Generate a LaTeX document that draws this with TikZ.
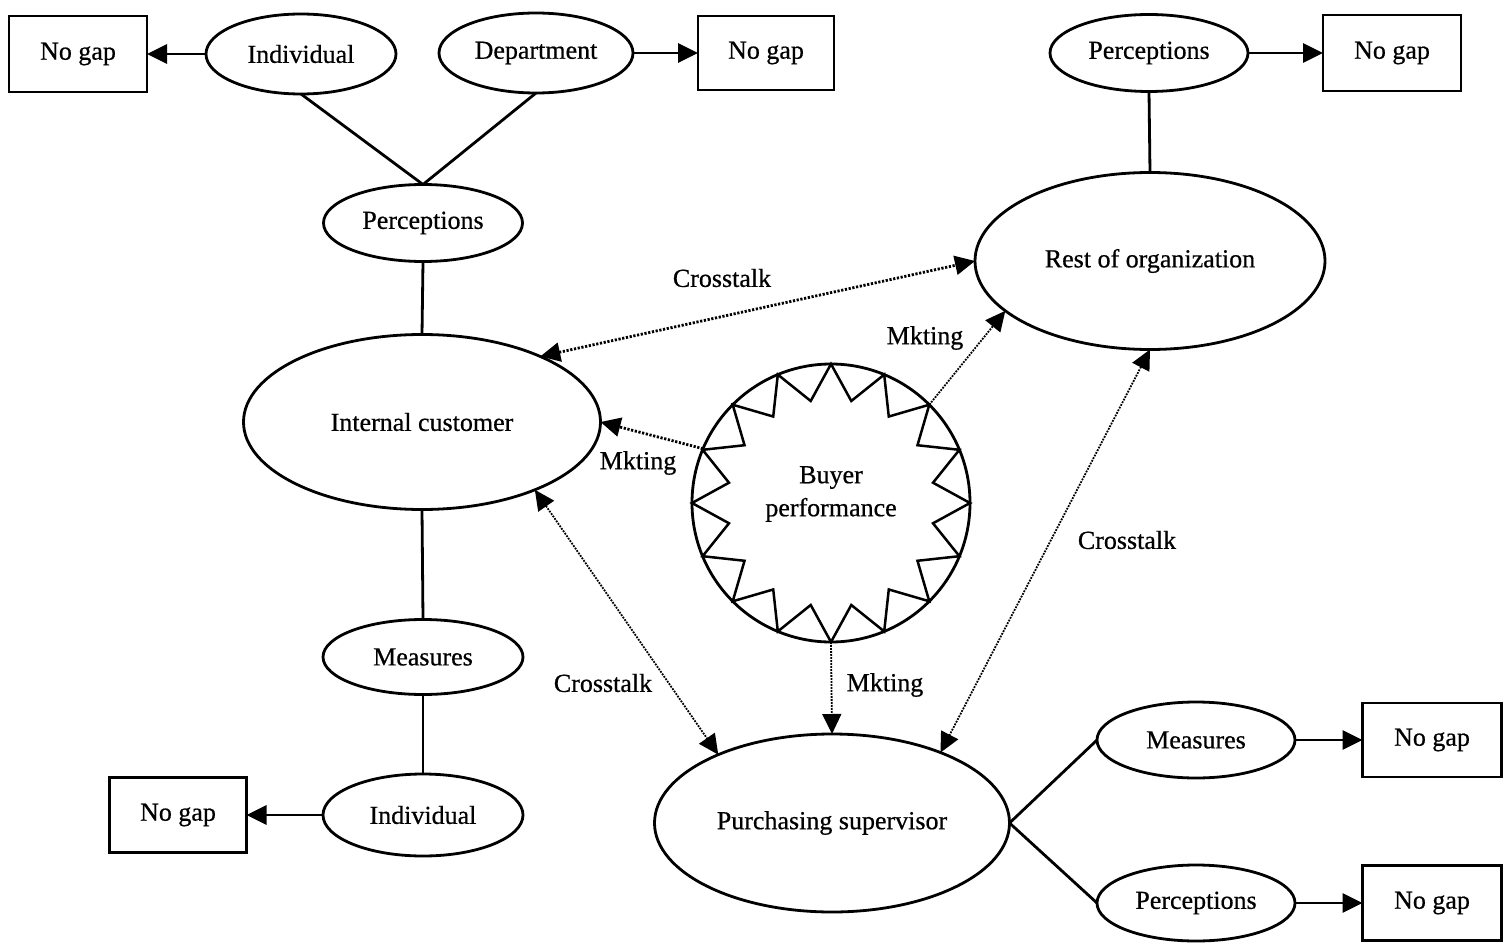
\documentclass[tikz,border=0pt]{standalone}
\usepackage{fontspec}
\setmainfont[FakeBold=0.6]{Liberation Serif}
\usetikzlibrary{shapes.geometric,arrows.meta,calc}
\begin{document}
\begin{tikzpicture}[x=1pt,y=-1pt,
  every node/.style={font=\fontsize{26}{33}\selectfont, inner sep=0pt, outer sep=0pt},
  oval/.style={draw, ellipse, line width=2.8pt},
  gapbox/.style={draw, rectangle, line width=2.5pt},
  link/.style={line width=2.8pt},
  head/.tip={Triangle[length=20pt,width=19pt]},
  tip/.style={-head},
  both/.style={head-head},
  talk/.style={line width=2.8pt, dash pattern=on 2.2pt off 1.6pt},
  thintalk/.style={line width=1.8pt, dash pattern=on 1.8pt off 1.2pt}
]
\useasboundingbox (0,0) rectangle (1510,947);

% top-left cluster
\node[gapbox, minimum width=138pt, minimum height=76pt] (gapA) at (78,54) {No gap};
\node[oval, minimum width=190pt, minimum height=80pt] (indA) at (301,54) {Individual};
\node[oval, minimum width=194pt, minimum height=80pt] (dept) at (536,53) {Department};
\node[gapbox, minimum width=136pt, minimum height=74pt] (gapB) at (766,53) {No gap};
\node[oval, minimum width=199pt, minimum height=77pt] (percA) at (423,223) {Perceptions};

% internal customer column
\node[oval, minimum width=357pt, minimum height=175pt] (ic) at (422,422) {Internal customer};
\node[oval, minimum width=200pt, minimum height=75pt] (measA) at (423,657) {Measures};
\node[oval, minimum width=200pt, minimum height=82pt] (indB) at (423,815) {Individual};
\node[gapbox, minimum width=137pt, minimum height=75pt] (gapC) at (178,815) {No gap};

% top-right cluster
\node[oval, minimum width=198pt, minimum height=77pt] (percB) at (1149,53) {Perceptions};
\node[gapbox, minimum width=138pt, minimum height=76pt] (gapD) at (1392,53) {No gap};
\node[oval, minimum width=350pt, minimum height=177pt] (ro) at (1150,261) {Rest of organization};

% purchasing supervisor cluster
\node[oval, minimum width=355pt, minimum height=178pt] (ps) at (832,823) {Purchasing supervisor};
\node[oval, minimum width=198pt, minimum height=76pt] (measB) at (1196,740) {Measures};
\node[oval, minimum width=198pt, minimum height=76pt] (percC) at (1196,903) {Perceptions};
\node[gapbox, minimum width=139pt, minimum height=74pt] (gapE) at (1432,740) {No gap};
\node[gapbox, minimum width=139pt, minimum height=75pt] (gapF) at (1432,903) {No gap};

% buyer performance star
\node[draw, circle, line width=2.8pt, minimum size=278pt] (buyer) at (831,503) {};
\draw[line width=2.5pt, line join=miter]
  ($(buyer.center)+(90:139)$)
  \foreach \i in {0,...,15} {
    -- ($(buyer.center)+({101.25+22.5*\i}:104)$)
    -- ($(buyer.center)+({112.5+22.5*\i}:139)$)
  } -- cycle;
\node[align=center] (buyertext) at (831,494) {Buyer\\performance};

% solid links
\draw[link] (indA.south) -- (percA.north);
\draw[link] (dept.south) -- (percA.north);
\draw[link] (percA.south) -- (ic.north);
\draw[link] (ic.south) -- (measA.north);
\draw[link] (measA.south) -- (indB.north);
\draw[link] (percB.south) -- (ro.north);
\draw[link] (ps.east) -- (measB.west);
\draw[link] (ps.east) -- (percC.west);

% no-gap arrows
\draw[link, tip] (indA.west) -- (gapA.east);
\draw[link, tip] (dept.east) -- (gapB.west);
\draw[link, tip] (percB.east) -- (gapD.west);
\draw[link, tip] (indB.west) -- (gapC.east);
\draw[link, tip] (measB.east) -- (gapE.west);
\draw[link, tip] (percC.east) -- (gapF.west);

% crosstalk and marketing flows
\draw[talk, both] (ic.29) -- (ro.west);
\draw[talk, tip] (buyer.157.5) -- (ic.east);
\draw[thintalk, tip] (buyer.45) -- (ro.199.6);
\draw[thintalk, tip] (buyer.south) -- (ps.north);
\draw[thintalk, both] (ic.-31) -- (ps.149.5);
\draw[thintalk, both] (ro.south) -- (ps.33);

% flow labels
\node (ctA) at (722,278) {Crosstalk};
\node (mkA) at (925,338) {Mkting};
\node (mkB) at (638,463) {Mkting};
\node (ctB) at (603,683) {Crosstalk};
\node (mkC) at (885,685) {Mkting};
\node (ctC) at (1127,540) {Crosstalk};
\end{tikzpicture}
\end{document}
